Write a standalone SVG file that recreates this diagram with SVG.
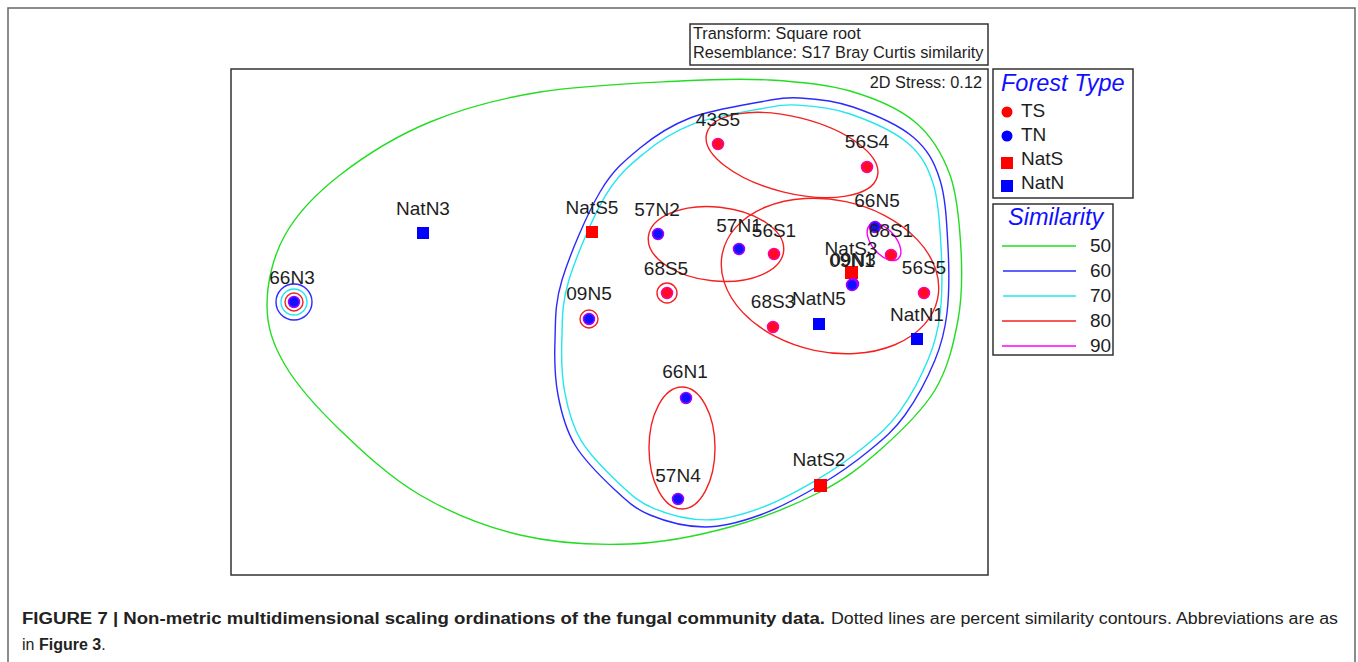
<svg xmlns="http://www.w3.org/2000/svg" width="1358" height="662" viewBox="0 0 1358 662">
<style>
.lbl{font-family:"Liberation Sans",Arial,sans-serif;font-size:19px;fill:#1e1e1e;text-anchor:middle}
.sm{font-family:"Liberation Sans",Arial,sans-serif;font-size:16.3px;fill:#1e1e1e}
.lg{font-family:"Liberation Sans",Arial,sans-serif;font-size:19px;fill:#1e1e1e}
.ttl{font-family:"Liberation Sans",Arial,sans-serif;font-size:23.5px;font-style:italic;fill:#1010ff}
.cap{font-family:"Liberation Sans",Arial,sans-serif;font-size:16px;fill:#222}
.box{fill:none;stroke:#333;stroke-width:1.5}
.c50{fill:none;stroke:#22dd22;stroke-width:1.4}
.c60{fill:none;stroke:#2b2bff;stroke-width:1.4}
.c70{fill:none;stroke:#22e6f0;stroke-width:1.4}
.c80{fill:none;stroke:#f52020;stroke-width:1.4}
.c90{fill:none;stroke:#ff00ff;stroke-width:1.4}
.ts{fill:#ff0a1e;stroke:#ff00a0;stroke-width:1.5}
.tn{fill:#1010ff;stroke:#a000ff;stroke-width:1.5}
.ns{fill:#ff0000}
.nn{fill:#0000ff}
</style>
<rect x="8" y="8" width="1347" height="670" fill="#fff" stroke="#666" stroke-width="1.5"/>
<g id="frame">
<rect class="box" x="231" y="69" width="757" height="506"/>
<rect class="box" x="690" y="24" width="298" height="41"/>
<text class="sm" x="693" y="39">Transform: Square root</text>
<text class="sm" x="693" y="58">Resemblance: S17 Bray Curtis similarity</text>
<text class="sm" x="982" y="88" text-anchor="end" font-size="16.5px">2D Stress: 0.12</text>
</g>
<g id="connectors">
<path class="c50" d="M267,305 C267,283.3 272.8,256.7 285,235 C297.2,213.3 315.8,193.8 340,175 C364.2,156.2 396.7,135.8 430,122 C463.3,108.2 498.3,98.8 540,92 C581.7,85.2 641.7,83 680,81 C718.3,79 741.7,78.3 770,80 C798.3,81.7 825.8,84 850,91 C874.2,98 898.3,108 915,122 C931.7,136 942.3,153.7 950,175 C957.7,196.3 959.7,225.8 961,250 C962.3,274.2 962.3,296.7 958,320 C953.7,343.3 948,368.3 935,390 C922,411.7 899.2,433 880,450 C860.8,467 845,479.2 820,492 C795,504.8 761.7,518.3 730,527 C698.3,535.7 665,542.7 630,544 C595,545.3 555,543.2 520,535 C485,526.8 450,512.5 420,495 C390,477.5 362.5,451.7 340,430 C317.5,408.3 297.2,385.8 285,365 C272.8,344.2 267,326.7 267,305 Z"/>
<path id="p60" class="c60" d="M555,340 C555.7,320.8 554.5,304.7 562,280 C569.5,255.3 587,214 600,192 C613,170 625,160.3 640,148 C655,135.7 670,125.7 690,118 C710,110.3 741.7,105.3 760,102 C778.3,98.7 784.5,97.2 800,98 C815.5,98.8 834.2,100.5 853,107 C871.8,113.5 898.5,124.8 913,137 C927.5,149.2 934.2,161.7 940,180 C945.8,198.3 946.8,224.8 948,247 C949.2,269.2 949.2,294.2 947,313 C944.8,331.8 942,343 935,360 C928,377 915.8,400 905,415 C894.2,430 884.2,438.3 870,450 C855.8,461.7 838.3,474.2 820,485 C801.7,495.8 779.2,508 760,515 C740.8,522 723.3,527 705,527 C686.7,527 665,521.2 650,515 C635,508.8 627.5,501.7 615,490 C602.5,478.3 584.5,460.8 575,445 C565.5,429.2 561.3,412.5 558,395 C554.7,377.5 554.3,359.2 555,340 Z"/>
<path class="c70" vector-effect="non-scaling-stroke" transform="translate(751.5 312.5) scale(0.965 0.967) translate(-751.5 -312.5)" d="M555,340 C555.7,320.8 554.5,304.7 562,280 C569.5,255.3 587,214 600,192 C613,170 625,160.3 640,148 C655,135.7 670,125.7 690,118 C710,110.3 741.7,105.3 760,102 C778.3,98.7 784.5,97.2 800,98 C815.5,98.8 834.2,100.5 853,107 C871.8,113.5 898.5,124.8 913,137 C927.5,149.2 934.2,161.7 940,180 C945.8,198.3 946.8,224.8 948,247 C949.2,269.2 949.2,294.2 947,313 C944.8,331.8 942,343 935,360 C928,377 915.8,400 905,415 C894.2,430 884.2,438.3 870,450 C855.8,461.7 838.3,474.2 820,485 C801.7,495.8 779.2,508 760,515 C740.8,522 723.3,527 705,527 C686.7,527 665,521.2 650,515 C635,508.8 627.5,501.7 615,490 C602.5,478.3 584.5,460.8 575,445 C565.5,429.2 561.3,412.5 558,395 C554.7,377.5 554.3,359.2 555,340 Z"/>
<ellipse class="c80" cx="0" cy="0" rx="88" ry="38" transform="translate(792 155) rotate(14)"/>
<ellipse class="c80" cx="0" cy="0" rx="68" ry="37" transform="translate(716 244) rotate(6)"/>
<ellipse class="c80" cx="0" cy="0" rx="110" ry="76" transform="translate(830 276) rotate(12)"/>
<ellipse class="c80" cx="682" cy="448" rx="33" ry="61"/>
<ellipse class="c90" cx="0" cy="0" rx="22" ry="12" transform="translate(884 242) rotate(50)"/>
<circle class="c80" cx="667" cy="293" r="10"/>
<circle class="c80" cx="589" cy="319" r="9"/>
<circle class="c60" cx="294" cy="302" r="18"/>
<circle class="c70" cx="294" cy="302" r="13"/>
<circle class="c80" cx="294" cy="302" r="9"/>
</g>
<g id="n43S5"><circle class="ts" cx="718" cy="144" r="5.5"/><text class="lbl" x="718" y="126">43S5</text></g>
<g id="n56S4"><circle class="ts" cx="867" cy="167" r="5.5"/><text class="lbl" x="867" y="148">56S4</text></g>
<g id="nNatN3"><rect class="nn" x="417" y="227" width="12" height="12"/><text class="lbl" x="423" y="215">NatN3</text></g>
<g id="nNatS5"><rect class="ns" x="586" y="226" width="12" height="12"/><text class="lbl" x="592" y="214">NatS5</text></g>
<g id="n57N2"><circle class="tn" cx="658" cy="234" r="5.5"/><text class="lbl" x="657" y="216">57N2</text></g>
<g id="n57N1"><circle class="tn" cx="739" cy="249" r="5.5"/><text class="lbl" x="739" y="232">57N1</text></g>
<g id="n56S1"><circle class="ts" cx="774" cy="254" r="5.5"/><text class="lbl" x="774" y="237">56S1</text></g>
<g id="n66N5"><circle class="tn" cx="875" cy="227" r="5.5"/><text class="lbl" x="877" y="207">66N5</text></g>
<g id="n68S1"><circle class="ts" cx="891" cy="255" r="5.5"/><text class="lbl" x="891" y="237">68S1</text></g>
<g id="nNatS3"><rect class="ns" x="845" y="266" width="13" height="13"/><text class="lbl" x="851" y="255">NatS3</text></g>
<g id="n09N3"><circle class="tn" cx="853" cy="284" r="5.5"/><text class="lbl" x="853" y="266">09N3</text></g>
<g id="n09N1"><circle class="tn" cx="852" cy="285" r="5.5"/><text class="lbl" x="852" y="267">09N1</text></g>
<g id="n56S5"><circle class="ts" cx="924" cy="293" r="5.5"/><text class="lbl" x="924" y="274">56S5</text></g>
<g id="n68S3"><circle class="ts" cx="773" cy="327" r="5.5"/><text class="lbl" x="773" y="308">68S3</text></g>
<g id="nNatN5"><rect class="nn" x="813" y="318" width="12" height="12"/><text class="lbl" x="819" y="305">NatN5</text></g>
<g id="nNatN1"><rect class="nn" x="911" y="333" width="12" height="12"/><text class="lbl" x="917" y="321">NatN1</text></g>
<g id="n68S5"><circle class="ts" cx="667" cy="293" r="5.5"/><text class="lbl" x="666" y="275">68S5</text></g>
<g id="n09N5"><circle class="tn" cx="589" cy="319" r="5.5"/><text class="lbl" x="589" y="300">09N5</text></g>
<g id="n66N3"><circle class="tn" cx="294" cy="302" r="5.5"/><text class="lbl" x="292" y="284">66N3</text></g>
<g id="n66N1"><circle class="tn" cx="686" cy="398" r="5.5"/><text class="lbl" x="685" y="378">66N1</text></g>
<g id="n57N4"><circle class="tn" cx="678" cy="499" r="5.5"/><text class="lbl" x="678" y="482">57N4</text></g>
<g id="nNatS2"><rect class="ns" x="814" y="479" width="13" height="13"/><text class="lbl" x="819" y="466">NatS2</text></g>
<g id="legend-forest">
<rect class="box" x="993" y="69" width="140" height="129"/>
<text class="ttl" x="1001" y="91">Forest Type</text>
<circle cx="1007" cy="112" r="5.5" fill="#ff0000"/><text class="lg" x="1021" y="117">TS</text>
<circle cx="1007" cy="136" r="5.5" fill="#0000ff"/><text class="lg" x="1021" y="141">TN</text>
<rect x="1001" y="157" width="12" height="12" fill="#ff0000"/><text class="lg" x="1021" y="165">NatS</text>
<rect x="1001" y="180" width="12" height="12" fill="#0000ff"/><text class="lg" x="1021" y="189">NatN</text>
</g>
<g id="legend-similarity">
<rect class="box" x="993" y="204" width="120" height="151"/>
<text class="ttl" x="1008" y="225">Similarity</text>
<line class="c50" x1="1002" y1="246" x2="1076" y2="246"/><text class="lg" x="1090" y="252">50</text>
<line class="c60" x1="1003" y1="271" x2="1076" y2="271"/><text class="lg" x="1090" y="277">60</text>
<line class="c70" x1="1003" y1="296" x2="1076" y2="296"/><text class="lg" x="1090" y="302">70</text>
<line class="c80" x1="1002" y1="321" x2="1076" y2="321"/><text class="lg" x="1090" y="327">80</text>
<line class="c90" x1="1002" y1="346" x2="1076" y2="346"/><text class="lg" x="1090" y="352">90</text>
</g>
<g id="caption">
<text class="cap" x="22" y="624" font-weight="bold" textLength="803" lengthAdjust="spacingAndGlyphs">FIGURE 7 | Non-metric multidimensional scaling ordinations of the fungal community data.</text>
<text class="cap" x="831" y="624" textLength="507" lengthAdjust="spacingAndGlyphs">Dotted lines are percent similarity contours. Abbreviations are as</text>
<text class="cap" x="22" y="650">in <tspan font-weight="bold">Figure 3</tspan>.</text>
</g>
</svg>
